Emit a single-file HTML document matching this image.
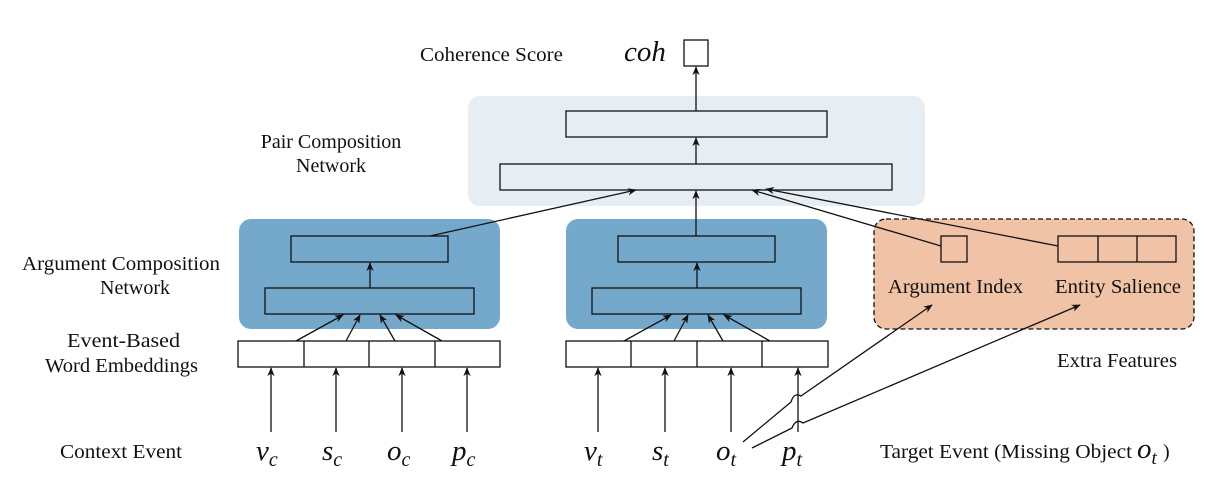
<!DOCTYPE html>
<html><head><meta charset="utf-8"><style>
html,body{margin:0;padding:0;background:#fff;}
svg{display:block;}
text{font-family:"Liberation Serif",serif;fill:#111;}
.m{font-style:italic;font-size:29px;}
</style></head><body>
<svg width="1220" height="484" viewBox="0 0 1220 484" xmlns="http://www.w3.org/2000/svg">
<defs>
<marker id="a" viewBox="0 0 10 10" refX="9" refY="5" markerWidth="7" markerHeight="7" orient="auto"><path d="M0,1 L10,5 L0,9 L3,5 z" fill="#111"/></marker>
</defs>
<g stroke="#111" stroke-width="1.3" fill="none">
<rect x="468" y="96" width="457" height="110" rx="12" fill="#e6edf3" stroke="none"/>
<rect x="239" y="219" width="261" height="110" rx="12" fill="#75a9cc" stroke="none"/>
<rect x="566" y="219" width="261" height="110" rx="12" fill="#75a9cc" stroke="none"/>
<rect x="874" y="219" width="320" height="110" rx="12" fill="#f0c2a6" stroke="#111" stroke-dasharray="5,3"/>
<rect x="684" y="40" width="24" height="26" fill="#fff"/>
<rect x="566" y="111" width="261" height="26"/>
<rect x="500" y="164" width="392" height="26"/>
<line x1="696" y1="111" x2="696" y2="67" marker-end="url(#a)"/>
<line x1="696" y1="164" x2="696" y2="138" marker-end="url(#a)"/>
<line x1="696" y1="236" x2="696" y2="191" marker-end="url(#a)"/>
<line x1="430" y1="236" x2="636" y2="190" marker-end="url(#a)"/>
<line x1="941" y1="246" x2="752" y2="190" marker-end="url(#a)"/>
<line x1="1058" y1="246" x2="766" y2="189" marker-end="url(#a)"/>
<rect x="291" y="236" width="157" height="26"/>
<rect x="265" y="288" width="209" height="26"/>
<line x1="370" y1="288" x2="370" y2="263" marker-end="url(#a)"/>
<rect x="238" y="341" width="262" height="26" fill="#fff"/>
<line x1="304" y1="341" x2="304" y2="367"/><line x1="369" y1="341" x2="369" y2="367"/><line x1="435" y1="341" x2="435" y2="367"/>
<line x1="296" y1="341" x2="343" y2="315" marker-end="url(#a)"/>
<line x1="346" y1="341" x2="360" y2="315" marker-end="url(#a)"/>
<line x1="395" y1="341" x2="380" y2="315" marker-end="url(#a)"/>
<line x1="442" y1="341" x2="396" y2="315" marker-end="url(#a)"/>
<line x1="271" y1="432" x2="271" y2="368" marker-end="url(#a)"/>
<line x1="336" y1="432" x2="336" y2="368" marker-end="url(#a)"/>
<line x1="402" y1="432" x2="402" y2="368" marker-end="url(#a)"/>
<line x1="467" y1="432" x2="467" y2="368" marker-end="url(#a)"/>
<rect x="618" y="236" width="157" height="26"/>
<rect x="592" y="288" width="209" height="26"/>
<line x1="697" y1="288" x2="697" y2="263" marker-end="url(#a)"/>
<rect x="566" y="341" width="262" height="26" fill="#fff"/>
<line x1="631" y1="341" x2="631" y2="367"/><line x1="697" y1="341" x2="697" y2="367"/><line x1="762" y1="341" x2="762" y2="367"/>
<line x1="624" y1="341" x2="671" y2="315" marker-end="url(#a)"/>
<line x1="674" y1="341" x2="688" y2="315" marker-end="url(#a)"/>
<line x1="723" y1="341" x2="708" y2="315" marker-end="url(#a)"/>
<line x1="770" y1="341" x2="724" y2="315" marker-end="url(#a)"/>
<line x1="598" y1="432" x2="598" y2="368" marker-end="url(#a)"/>
<line x1="665" y1="432" x2="665" y2="368" marker-end="url(#a)"/>
<line x1="731" y1="432" x2="731" y2="368" marker-end="url(#a)"/>
<line x1="798" y1="432" x2="798" y2="368" marker-end="url(#a)"/>
<rect x="941" y="236" width="26" height="26"/>
<rect x="1058" y="236" width="118" height="26"/>
<line x1="1098" y1="236" x2="1098" y2="262"/><line x1="1137" y1="236" x2="1137" y2="262"/>
<path d="M743,442 L791,402 Q794,392 801,396 L932,305" marker-end="url(#a)"/>
<path d="M752,448 L792,428 Q796,418 803,423 L1080,305" marker-end="url(#a)"/>
</g>
<g font-size="20">
<text x="420" y="61" textLength="143" lengthAdjust="spacingAndGlyphs">Coherence Score</text>
<text x="331" y="148" text-anchor="middle">Pair Composition</text>
<text x="331" y="172" text-anchor="middle">Network</text>
<text x="22" y="270" textLength="198" lengthAdjust="spacingAndGlyphs">Argument Composition</text>
<text x="100" y="294">Network</text>
<text x="67" y="347" textLength="113" lengthAdjust="spacingAndGlyphs">Event-Based</text>
<text x="45" y="372" textLength="153" lengthAdjust="spacingAndGlyphs">Word Embeddings</text>
<text x="60" y="458" textLength="122" lengthAdjust="spacingAndGlyphs">Context Event</text>
<text x="888" y="293" textLength="135" lengthAdjust="spacingAndGlyphs">Argument Index</text>
<text x="1055" y="293" textLength="126" lengthAdjust="spacingAndGlyphs">Entity Salience</text>
<text x="1057" y="367" textLength="120" lengthAdjust="spacingAndGlyphs">Extra Features</text>
<text x="880" y="458" textLength="252" lengthAdjust="spacingAndGlyphs">Target Event (Missing Object</text>
<text x="1163" y="458">)</text>
</g>
<text x="624" y="61" class="m" font-size="26">coh</text>
<text x="1137" y="458" class="m" font-size="27">o<tspan font-size="19" dy="6">t</tspan></text>
<text x="256" y="460" class="m">v<tspan font-size="20" dy="6">c</tspan></text>
<text x="322" y="460" class="m">s<tspan font-size="20" dy="6">c</tspan></text>
<text x="387" y="460" class="m">o<tspan font-size="20" dy="6">c</tspan></text>
<text x="452" y="460" class="m">p<tspan font-size="20" dy="6">c</tspan></text>
<text x="584" y="460" class="m">v<tspan font-size="20" dy="6">t</tspan></text>
<text x="652" y="460" class="m">s<tspan font-size="20" dy="6">t</tspan></text>
<text x="716" y="460" class="m">o<tspan font-size="20" dy="6">t</tspan></text>
<text x="782" y="460" class="m">p<tspan font-size="20" dy="6">t</tspan></text>
</svg>
</body></html>
